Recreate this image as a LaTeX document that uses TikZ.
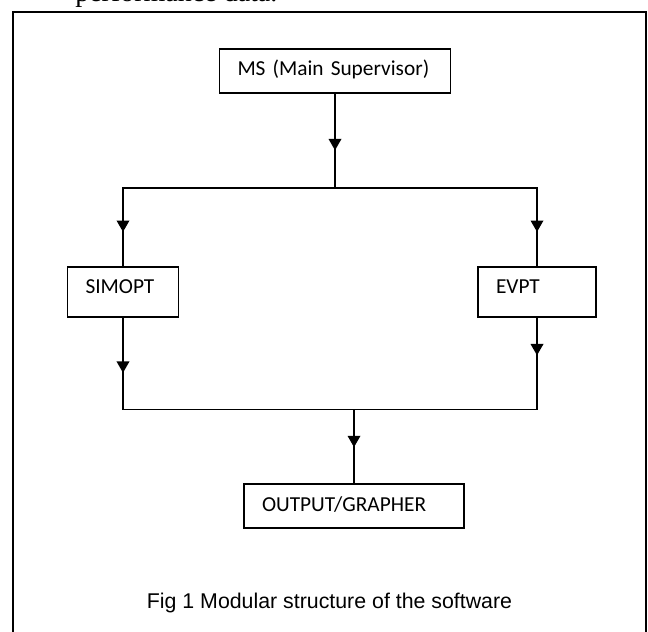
\documentclass[tikz,border=0pt]{standalone}
\usepackage{fontspec}
\usepackage{tikz}
\usetikzlibrary{calc}
\usetikzlibrary{positioning}
\usetikzlibrary{arrows.meta}
\usetikzlibrary{decorations.markings}
\newfontfamily\boxfont{Carlito}
\newfontfamily\capfont{Liberation Sans}
\newfontfamily\bodyfont{Liberation Serif}

\tikzset{
  modbox/.style = {draw, line width=1pt, align=left, inner xsep=13.5pt,
    font=\boxfont\fontsize{16pt}{19pt}\selectfont,
    text height=11pt, text depth=3.5pt, minimum height=33pt},
  tallbox/.style = {modbox, text depth=8.5pt, minimum height=37.5pt},
  flow/.style = {line width=1pt, postaction={decorate},
    decoration={markings, mark=at position #1 with {\arrow{Triangle[width=9.5pt, length=8.5pt]}}}},
  bus/.style = {line width=1pt, line cap=rect},
  frame/.style = {line width=1.4pt}
}

\begin{document}
\begin{tikzpicture}[x=0.75pt, y=-0.75pt]
\useasboundingbox (0,0) rectangle (648,631);
\clip (0,0) rectangle (648,631);
\node[anchor=base west, inner sep=0pt, font=\bodyfont\fontsize{21pt}{24pt}\selectfont] (prev) at (75,2) {performance data.};
\draw[frame] (13,640) -- (13,12) -- (646,12) -- (646,640);

\node[modbox, text width=146.25pt] (ms) at (335,71) {MS (Main Supervisor)};
\node[tallbox, text width=56.25pt] (simopt) at (123,292) {SIMOPT};
\node[tallbox, text width=61.5pt] (evpt) at (537,292) {EVPT};
\node[modbox, text width=138pt] (out) at (354,506) {OUTPUT/GRAPHER};
\node[font=\capfont\fontsize{16pt}{19pt}\selectfont] (cap) at (329.5,603) {Fig 1 Modular structure of the software};

\coordinate (split) at (335,188);
\coordinate (join) at (354,409.5);

\draw[flow=0.6] (ms.south) -- (split);
\draw[bus] (simopt.north |- split) -- (evpt.north |- split);
\draw[flow=0.56] (simopt.north |- split) -- (simopt.north);
\draw[flow=0.56] (evpt.north |- split) -- (evpt.north);
\draw[flow=0.6] (simopt.south) -- (simopt.south |- join);
\draw[flow=0.41] (evpt.south) -- (evpt.south |- join);
\draw[bus] (simopt.south |- join) -- (evpt.south |- join);
\draw[flow=0.51] (join) -- (out.north);
\end{tikzpicture}
\end{document}
